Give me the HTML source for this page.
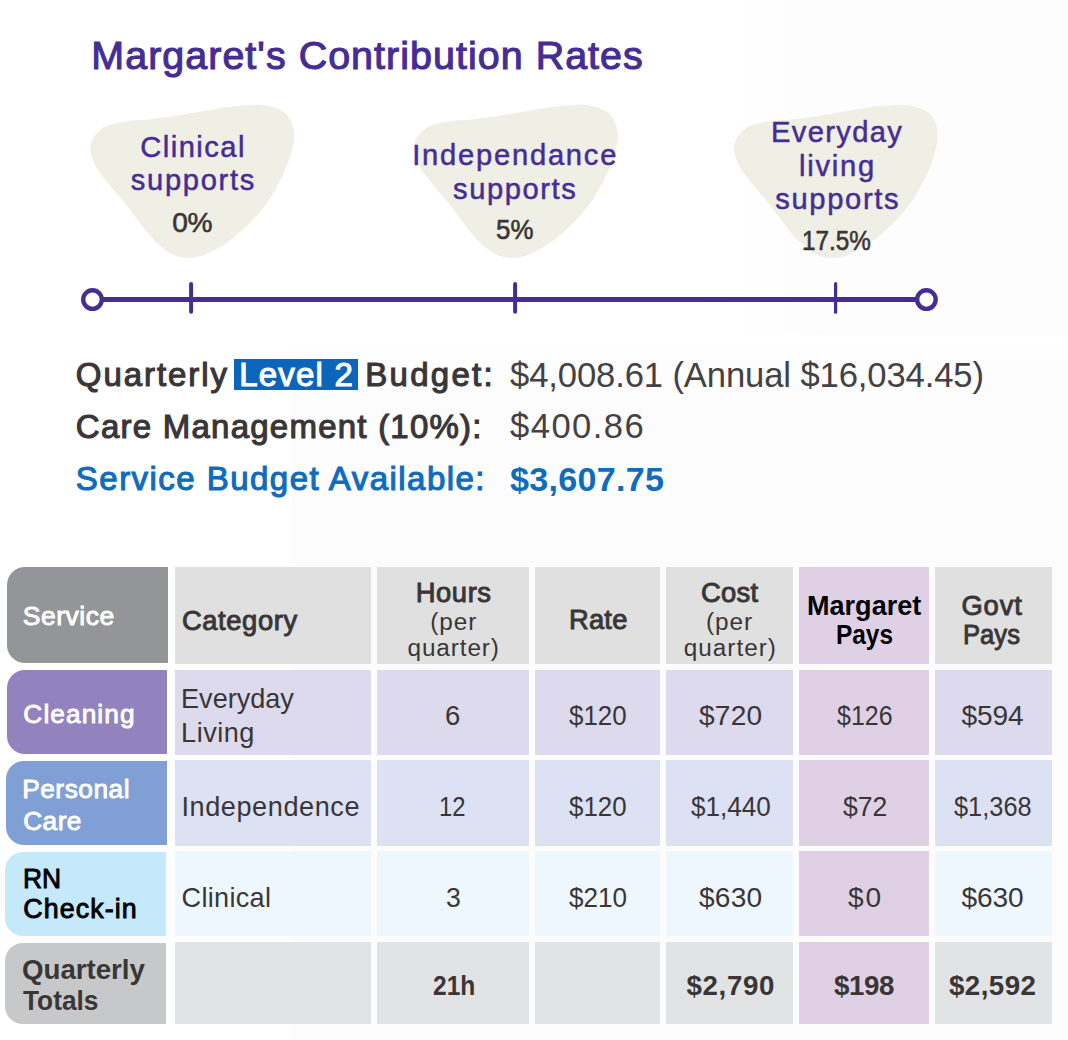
<!DOCTYPE html>
<html lang="en">
<head>
<meta charset="utf-8">
<title>Margaret's Contribution Rates</title>
<style>
  html, body { margin: 0; padding: 0; }
  body { width: 1068px; height: 1040px; position: relative; overflow: hidden; background: #ffffff;
         font-family: "Liberation Sans", sans-serif; }
  .t { position: absolute; white-space: nowrap; line-height: 1; margin: 0; padding: 0; }
  .r { font-weight: 400; }
  .b { font-weight: 700; }
  .wm { position: absolute; }
  .cell { position: absolute; }
  .svc { border-radius: 18px 0 0 18px; }
  svg { position: absolute; left: 0; top: 0; }
  .hl { position: absolute; left: 234.4px; top: 359.3px; width: 123.2px; height: 30.7px; background: #0B65BB; }
</style>
</head>
<body>
<div class="wm" style="left:292px;top:335px;width:776px;height:705px;background:linear-gradient(180deg,rgba(252,252,252,0) 0,#fcfcfc 50px)"></div>
<div class="wm" style="left:700px;top:0;width:368px;height:335px;background:linear-gradient(90deg,rgba(253,253,253,0) 0,#fdfdfd 120px)"></div>
<!-- blobs + slider -->
<svg width="1068" height="340" viewBox="0 0 1068 340">
  <defs>
    <path id="blob" d="M90.3 145.8C91.3 139.4 96.3 132.5 101.8 128.5C107.4 124.5 116.2 123.3 123.8 121.8C131.4 120.3 139.7 120.4 147.6 119.6C155.5 118.7 163.4 117.7 171.3 116.6C179.2 115.4 187.0 113.9 194.9 112.5C202.7 111.2 210.6 109.7 218.5 108.5C226.3 107.4 234.3 106.1 242.2 105.6C250.1 105.1 258.5 104.1 265.9 105.5C273.2 106.9 281.6 109.3 286.3 114.0C291.0 118.7 293.6 126.7 294.2 133.8C294.8 140.9 292.2 149.2 290.0 156.7C287.8 164.2 284.5 171.7 281.1 178.8C277.6 185.9 273.7 192.9 269.3 199.4C264.9 206.0 259.9 212.3 254.5 218.1C249.2 224.0 243.4 229.5 237.3 234.5C231.2 239.5 224.7 244.5 217.9 248.3C211.1 252.1 203.7 256.2 196.4 257.4C189.1 258.5 180.9 257.8 174.1 255.2C167.2 252.5 160.9 246.9 155.2 241.6C149.5 236.3 145.0 229.5 140.1 223.3C135.2 217.1 130.7 210.4 125.8 204.2C120.8 198.0 115.3 192.2 110.4 186.0C105.4 179.8 99.4 173.8 96.1 167.1C92.8 160.4 89.4 152.2 90.3 145.8Z"/>
  </defs>
  <use href="#blob" fill="#F0EFE5"/>
  <use href="#blob" x="323.5" fill="#F0EFE5"/>
  <use href="#blob" x="643.6" fill="#F0EFE5"/>
  <g stroke="#462D93" fill="none">
    <line x1="101" y1="299.45" x2="917" y2="299.45" stroke-width="4.9"/>
    <line x1="191.1" y1="284" x2="191.1" y2="311.7" stroke-width="4" stroke-linecap="round"/>
    <line x1="515.1" y1="284" x2="515.1" y2="311.7" stroke-width="4" stroke-linecap="round"/>
    <line x1="835.6" y1="283.5" x2="835.6" y2="312.2" stroke-width="3.2" stroke-linecap="round"/>
    <circle cx="92.5" cy="299.6" r="9.3" stroke-width="4.4" fill="#ffffff"/>
    <circle cx="926.4" cy="299.6" r="9.3" stroke-width="4.4" fill="#ffffff"/>
  </g>
</svg>
<div class="hl"></div>
<!-- table cells -->
<div class="cell svc" style="left:7.2px;top:567px;width:160.7px;height:95.7px;background:#939598"></div>
<div class="cell" style="left:175px;top:567px;width:195.9px;height:97.0px;background:#E0E0E0"></div>
<div class="cell" style="left:377px;top:567px;width:151.9px;height:97.0px;background:#E0E0E0"></div>
<div class="cell" style="left:535.1px;top:567px;width:124.8px;height:97.0px;background:#E0E0E0"></div>
<div class="cell" style="left:666px;top:567px;width:126.9px;height:97.0px;background:#E0E0E0"></div>
<div class="cell" style="left:799px;top:567px;width:129.8px;height:97.0px;background:#E0D0E6"></div>
<div class="cell" style="left:935px;top:567px;width:117.0px;height:97.0px;background:#E0E0E0"></div>
<div class="cell svc" style="left:7px;top:669.9px;width:160.4px;height:84.2px;background:#9283BE"></div>
<div class="cell" style="left:175px;top:670px;width:195.9px;height:85.0px;background:#DDDAED"></div>
<div class="cell" style="left:377px;top:670px;width:151.9px;height:85.0px;background:#DDDAED"></div>
<div class="cell" style="left:535.1px;top:670px;width:124.8px;height:85.0px;background:#DDDAED"></div>
<div class="cell" style="left:666px;top:670px;width:126.9px;height:85.0px;background:#DDDAED"></div>
<div class="cell" style="left:799px;top:670px;width:129.8px;height:85.0px;background:#E0D0E6"></div>
<div class="cell" style="left:935px;top:670px;width:117.0px;height:85.0px;background:#DDDAED"></div>
<div class="cell svc" style="left:6.3px;top:760.9px;width:160.7px;height:84.3px;background:#809FD4"></div>
<div class="cell" style="left:175px;top:760px;width:195.9px;height:86.0px;background:#DCE1F3"></div>
<div class="cell" style="left:377px;top:760px;width:151.9px;height:86.0px;background:#DCE1F3"></div>
<div class="cell" style="left:535.1px;top:760px;width:124.8px;height:86.0px;background:#DCE1F3"></div>
<div class="cell" style="left:666px;top:760px;width:126.9px;height:86.0px;background:#DCE1F3"></div>
<div class="cell" style="left:799px;top:760px;width:129.8px;height:86.0px;background:#E0D0E6"></div>
<div class="cell" style="left:935px;top:760px;width:117.0px;height:86.0px;background:#DCE1F3"></div>
<div class="cell svc" style="left:5px;top:852px;width:160.8px;height:84.4px;background:#C5E8FA"></div>
<div class="cell" style="left:175px;top:851px;width:195.9px;height:85.0px;background:#EFF7FE"></div>
<div class="cell" style="left:377px;top:851px;width:151.9px;height:85.0px;background:#EFF7FE"></div>
<div class="cell" style="left:535.1px;top:851px;width:124.8px;height:85.0px;background:#EFF7FE"></div>
<div class="cell" style="left:666px;top:851px;width:126.9px;height:85.0px;background:#EFF7FE"></div>
<div class="cell" style="left:799px;top:851px;width:129.8px;height:85.0px;background:#E0D0E6"></div>
<div class="cell" style="left:935px;top:851px;width:117.0px;height:85.0px;background:#EFF7FE"></div>
<div class="cell svc" style="left:5.2px;top:943px;width:160.6px;height:80.7px;background:#C7C8CA"></div>
<div class="cell" style="left:175px;top:942px;width:195.9px;height:81.7px;background:#E2E3E4"></div>
<div class="cell" style="left:377px;top:942px;width:151.9px;height:81.7px;background:#E2E3E4"></div>
<div class="cell" style="left:535.1px;top:942px;width:124.8px;height:81.7px;background:#E2E3E4"></div>
<div class="cell" style="left:666px;top:942px;width:126.9px;height:81.7px;background:#E2E3E4"></div>
<div class="cell" style="left:799px;top:942px;width:129.8px;height:81.7px;background:#E0D0E6"></div>
<div class="cell" style="left:935px;top:942px;width:117.0px;height:81.7px;background:#E2E3E4"></div>
<span class="t r" style="left:91.35px;top:36.1px;font-size:39.42px;letter-spacing:1.042px;color:#452D95;-webkit-text-stroke:1.1px #452D95">Margaret's Contribution Rates</span>
<span class="t r" style="left:140.25px;top:133.1px;font-size:29.13px;letter-spacing:1.485px;color:#452D95;-webkit-text-stroke:0.5px #452D95">Clinical</span>
<span class="t r" style="left:130.85px;top:166.3px;font-size:29.13px;letter-spacing:1.679px;color:#452D95;-webkit-text-stroke:0.5px #452D95">supports</span>
<span class="t r" style="left:172.30px;top:208.5px;font-size:28.12px;letter-spacing:-0.433px;color:#3a3637;-webkit-text-stroke:0.6px #3a3637">0%</span>
<span class="t r" style="left:412.25px;top:140.7px;font-size:29.13px;letter-spacing:1.769px;color:#452D95;-webkit-text-stroke:0.5px #452D95">Independance</span>
<span class="t r" style="left:453.05px;top:175.1px;font-size:29.13px;letter-spacing:1.579px;color:#452D95;-webkit-text-stroke:0.5px #452D95">supports</span>
<span class="t r" style="left:495.65px;top:216.1px;font-size:28.12px;letter-spacing:0.000px;color:#3a3637;-webkit-text-stroke:0.6px #3a3637;transform:scaleX(0.9227);transform-origin:0 0">5%</span>
<span class="t r" style="left:771.05px;top:118.0px;font-size:29.13px;letter-spacing:1.351px;color:#452D95;-webkit-text-stroke:0.5px #452D95">Everyday</span>
<span class="t r" style="left:798.95px;top:152.3px;font-size:29.13px;letter-spacing:1.786px;color:#452D95;-webkit-text-stroke:0.5px #452D95">living</span>
<span class="t r" style="left:775.25px;top:185.4px;font-size:29.13px;letter-spacing:1.665px;color:#452D95;-webkit-text-stroke:0.5px #452D95">supports</span>
<span class="t r" style="left:801.53px;top:227.2px;font-size:28.12px;letter-spacing:0.000px;color:#3a3637;-webkit-text-stroke:0.6px #3a3637;transform:scaleX(0.8628);transform-origin:0 0">17.5%</span>
<span class="t r" style="left:75.86px;top:358.1px;font-size:33.01px;letter-spacing:1.921px;color:#3a3637;-webkit-text-stroke:1.12px #3a3637">Quarterly</span>
<span class="t r" style="left:239.16px;top:358.1px;font-size:33.01px;letter-spacing:1.203px;color:#ffffff;-webkit-text-stroke:1.12px #ffffff">Level 2</span>
<span class="t r" style="left:365.26px;top:358.1px;font-size:33.01px;letter-spacing:2.281px;color:#3a3637;-webkit-text-stroke:1.12px #3a3637">Budget:</span>
<span class="t r" style="left:510.00px;top:358.3px;font-size:34.64px;letter-spacing:-0.122px;color:#454142">$4,008.61 (Annual $16,034.45)</span>
<span class="t r" style="left:75.86px;top:410.0px;font-size:33.01px;letter-spacing:1.237px;color:#3a3637;-webkit-text-stroke:1.12px #3a3637">Care Management (10%):</span>
<span class="t r" style="left:510.00px;top:409.2px;font-size:34.64px;letter-spacing:1.433px;color:#454142">$400.86</span>
<span class="t r" style="left:75.86px;top:461.5px;font-size:33.01px;letter-spacing:1.458px;color:#0F6CBD;-webkit-text-stroke:1.12px #0F6CBD">Service Budget Available:</span>
<span class="t b" style="left:510.00px;top:462.1px;font-size:34.14px;letter-spacing:0.271px;color:#0F6CBD">$3,607.75</span>
<span class="t r" style="left:22.85px;top:602.5px;font-size:26.52px;letter-spacing:0.495px;color:#ffffff;-webkit-text-stroke:0.9px #ffffff">Service</span>
<span class="t r" style="left:181.96px;top:607.4px;font-size:27.35px;letter-spacing:0.592px;color:#3a3637;-webkit-text-stroke:0.93px #3a3637">Category</span>
<span class="t r" style="left:415.66px;top:578.5px;font-size:27.35px;letter-spacing:0.609px;color:#3a3637;-webkit-text-stroke:0.93px #3a3637">Hours</span>
<span class="t r" style="left:430.20px;top:609.6px;font-size:24.35px;letter-spacing:0.946px;color:#3a3637">(per</span>
<span class="t r" style="left:407.50px;top:635.9px;font-size:24.35px;letter-spacing:0.888px;color:#3a3637">quarter)</span>
<span class="t r" style="left:569.06px;top:606.3px;font-size:27.35px;letter-spacing:0.181px;color:#3a3637;-webkit-text-stroke:0.93px #3a3637">Rate</span>
<span class="t r" style="left:701.06px;top:578.5px;font-size:27.35px;letter-spacing:0.291px;color:#3a3637;-webkit-text-stroke:0.93px #3a3637">Cost</span>
<span class="t r" style="left:706.00px;top:609.6px;font-size:24.35px;letter-spacing:0.946px;color:#3a3637">(per</span>
<span class="t r" style="left:683.80px;top:635.9px;font-size:24.35px;letter-spacing:0.974px;color:#3a3637">quarter)</span>
<span class="t b" style="left:806.84px;top:591.4px;font-size:28.29px;letter-spacing:0.000px;color:#000000;transform:scaleX(0.9565);transform-origin:0 0">Margaret</span>
<span class="t b" style="left:836.34px;top:620.2px;font-size:28.29px;letter-spacing:0.000px;color:#000000;transform:scaleX(0.8632);transform-origin:0 0">Pays</span>
<span class="t r" style="left:961.46px;top:591.7px;font-size:27.35px;letter-spacing:0.884px;color:#3a3637;-webkit-text-stroke:0.93px #3a3637">Govt</span>
<span class="t r" style="left:963.26px;top:620.5px;font-size:27.35px;letter-spacing:0.000px;color:#3a3637;-webkit-text-stroke:0.93px #3a3637;transform:scaleX(0.9370);transform-origin:0 0">Pays</span>
<span class="t r" style="left:23.35px;top:700.5px;font-size:26.24px;letter-spacing:1.092px;color:#ffffff;-webkit-text-stroke:0.89px #ffffff">Cleaning</span>
<span class="t r" style="left:181.10px;top:685.4px;font-size:27.1px;letter-spacing:-0.042px;color:#3a3637">Everyday</span>
<span class="t r" style="left:181.10px;top:718.6px;font-size:27.1px;letter-spacing:0.496px;color:#3a3637">Living</span>
<span class="t r" style="left:445.22px;top:701.8px;font-size:28.12px;letter-spacing:0.000px;color:#3a3637;transform:scaleX(0.9786);transform-origin:0 0">6</span>
<span class="t r" style="left:569.30px;top:701.8px;font-size:28.12px;letter-spacing:0.000px;color:#3a3637;transform:scaleX(0.9209);transform-origin:0 0">$120</span>
<span class="t r" style="left:699.00px;top:701.8px;font-size:28.12px;letter-spacing:0.200px;color:#3a3637">$720</span>
<span class="t r" style="left:836.50px;top:701.8px;font-size:28.12px;letter-spacing:0.000px;color:#3a3637;transform:scaleX(0.8885);transform-origin:0 0">$126</span>
<span class="t r" style="left:961.50px;top:701.8px;font-size:28.12px;letter-spacing:-0.133px;color:#3a3637">$594</span>
<span class="t r" style="left:22.15px;top:776.3px;font-size:26.24px;letter-spacing:0.556px;color:#ffffff;-webkit-text-stroke:0.89px #ffffff">Personal</span>
<span class="t r" style="left:23.15px;top:807.6px;font-size:26.24px;letter-spacing:0.479px;color:#ffffff;-webkit-text-stroke:0.89px #ffffff">Care</span>
<span class="t r" style="left:181.40px;top:792.7px;font-size:27.1px;letter-spacing:0.583px;color:#3a3637">Independence</span>
<span class="t r" style="left:439.30px;top:792.7px;font-size:28.12px;letter-spacing:0.000px;color:#3a3637;transform:scaleX(0.8487);transform-origin:0 0">12</span>
<span class="t r" style="left:569.30px;top:792.7px;font-size:28.12px;letter-spacing:0.000px;color:#3a3637;transform:scaleX(0.9209);transform-origin:0 0">$120</span>
<span class="t r" style="left:690.50px;top:792.7px;font-size:28.12px;letter-spacing:0.000px;color:#3a3637;transform:scaleX(0.9280);transform-origin:0 0">$1,440</span>
<span class="t r" style="left:842.60px;top:792.7px;font-size:28.12px;letter-spacing:0.000px;color:#3a3637;transform:scaleX(0.9467);transform-origin:0 0">$72</span>
<span class="t r" style="left:953.90px;top:792.7px;font-size:28.12px;letter-spacing:0.000px;color:#3a3637;transform:scaleX(0.9034);transform-origin:0 0">$1,368</span>
<span class="t r" style="left:23.18px;top:865.6px;font-size:26.8px;letter-spacing:0.000px;color:#000000;-webkit-text-stroke:0.91px #000000;transform:scaleX(0.9848);transform-origin:0 0">RN</span>
<span class="t r" style="left:23.36px;top:896.1px;font-size:26.8px;letter-spacing:1.087px;color:#000000;-webkit-text-stroke:0.91px #000000">Check-in</span>
<span class="t r" style="left:181.50px;top:883.7px;font-size:27.1px;letter-spacing:0.313px;color:#3a3637">Clinical</span>
<span class="t r" style="left:445.65px;top:883.8px;font-size:28.12px;letter-spacing:0.000px;color:#3a3637;transform:scaleX(0.9500);transform-origin:0 0">3</span>
<span class="t r" style="left:569.00px;top:883.8px;font-size:28.12px;letter-spacing:0.000px;color:#3a3637;transform:scaleX(0.9289);transform-origin:0 0">$210</span>
<span class="t r" style="left:699.00px;top:883.8px;font-size:28.12px;letter-spacing:0.200px;color:#3a3637">$630</span>
<span class="t r" style="left:848.00px;top:883.8px;font-size:28.12px;letter-spacing:1.867px;color:#3a3637">$0</span>
<span class="t r" style="left:961.50px;top:883.8px;font-size:28.12px;letter-spacing:-0.133px;color:#3a3637">$630</span>
<span class="t b" style="left:22.00px;top:955.9px;font-size:27.71px;letter-spacing:-0.034px;color:#3a3637">Quarterly</span>
<span class="t b" style="left:23.00px;top:987.0px;font-size:27.71px;letter-spacing:0.000px;color:#3a3637;transform:scaleX(0.9480);transform-origin:0 0">Totals</span>
<span class="t b" style="left:432.50px;top:971.5px;font-size:27.71px;letter-spacing:0.000px;color:#3a3637;transform:scaleX(0.8865);transform-origin:0 0">21h</span>
<span class="t b" style="left:686.50px;top:971.5px;font-size:27.71px;letter-spacing:0.635px;color:#3a3637">$2,790</span>
<span class="t b" style="left:834.00px;top:971.5px;font-size:27.71px;letter-spacing:-0.407px;color:#3a3637">$198</span>
<span class="t b" style="left:949.00px;top:971.5px;font-size:27.71px;letter-spacing:0.435px;color:#3a3637">$2,592</span>
</body>
</html>
